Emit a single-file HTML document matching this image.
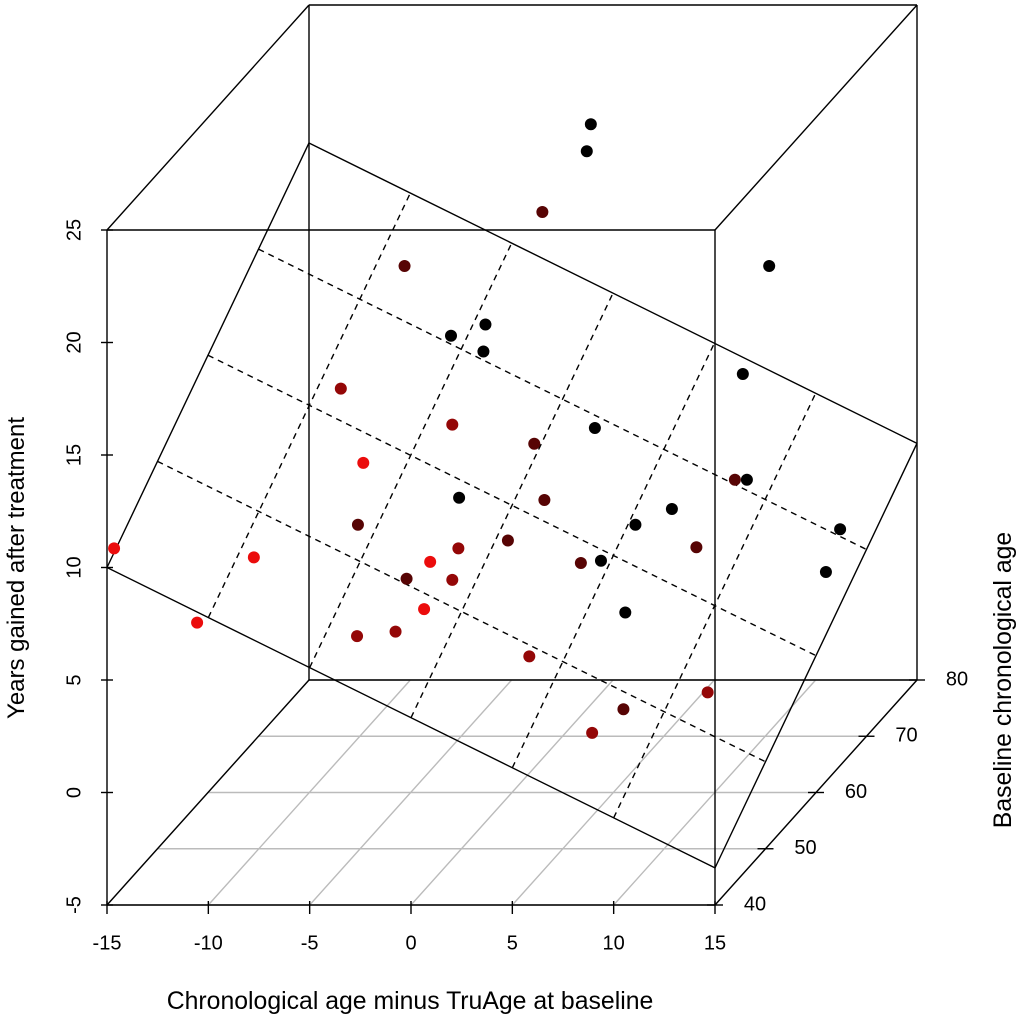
<!DOCTYPE html>
<html><head><meta charset="utf-8"><style>
body{margin:0;background:#fff}
svg{display:block;font-family:"Liberation Sans",sans-serif}
</style></head><body>
<svg id="chart" width="1020" height="1020" viewBox="0 0 1020 1020">
<text x="410" y="1009" font-size="24.8" text-anchor="middle">Chronological age minus TruAge at baseline</text>
<text transform="translate(24,568) rotate(-90)" font-size="24" text-anchor="middle">Years gained after treatment</text>
<text transform="translate(1011,680) rotate(-90)" font-size="24.8" text-anchor="middle">Baseline chronological age</text>
</svg>
<script>
const xVals=[0.9,0.7,1.0,9.7,-5.8,-6.0,-4.3,-4.4,8.4,-7.2,-1.7,0.6,1.1,-3.6,10.5,8.6,-5.6,1.1,4.9,3.1,13.2,-8.1,-0.7,-1.4,8.6,-14.9,-9.0,2.9,1.4,-0.3,-5.7,-1.7,12.5,-11.8,-0.6,2.6,-6.4,-4.5,2.1,10.9,5.0,5.2];
const ageVals=[72,72,62,72,62,72,72,72,72,55,55,62,72,45,62,72,72,62,72,72,72,62,62,55,62,41,45,62,72,45,62,55,72,45,45,72,55,55,55,55,62,55];
const zVals=[21.7,20.5,20.3,15.4,17.9,12.3,12.8,11.6,10.6,14.2,12.6,10.0,8.2,13.4,8.4,5.9,5.1,7.5,4.6,3.9,3.7,6.4,5.7,7.1,5.4,10.6,9.2,4.7,2.3,9.0,4.0,5.7,1.8,6.3,6.9,0.0,3.2,3.4,2.3,0.7,-1.8,-1.1];
const xTicks=[-15,-10,-5,0,5,10,15];
const zTicks=[-5,0,5,10,15,20,25];
const ageTicks=[40,50,60,70,80];
const planeIntercept=10, planeSlopeX=-0.445, planeSlopeAge=0.2217;

const svg=document.getElementById('chart');
const NS='http://www.w3.org/2000/svg';
function X(x){return 107+(x+15)*(608/30);}
function Z(z){return 905-(z+5)*22.5;}
function P(x,a,z){return [X(x)+(a-40)*5.05, Z(z)-(a-40)*5.625];}
function plane(x,a){return planeIntercept+planeSlopeX*(x+15)+planeSlopeAge*(a-40);}
function line(p,q,stroke,dash,name){
  const l=document.createElementNS(NS,'line');
  l.setAttribute('x1',p[0]);l.setAttribute('y1',p[1]);l.setAttribute('x2',q[0]);l.setAttribute('y2',q[1]);
  l.setAttribute('stroke',stroke);l.setAttribute('stroke-width','1.4');
  if(dash)l.setAttribute('stroke-dasharray',dash);
  
  
  svg.appendChild(l);
}
function text(x,y,s,anchor,name,rot){
  const t=document.createElementNS(NS,'text');
  if(rot){t.setAttribute('transform','translate('+x+','+y+') rotate(-90)');t.setAttribute('x',0);t.setAttribute('y',0);}
  else{t.setAttribute('x',x);t.setAttribute('y',y);}
  t.setAttribute('font-size','20');
  t.setAttribute('text-anchor',anchor);t.setAttribute('dominant-baseline','middle');
  t.textContent=s;
  
  
  svg.appendChild(t);
}
const z0=-5;
xTicks.forEach(x=>line(P(x,40,z0),P(x,80,z0),'#bbb',null,'floor-grid-x'));
ageTicks.forEach(a=>line(P(-15,a,z0),P(15,a,z0),'#bbb',null,'floor-grid-age'));
const k='#000';
line(P(-15,40,-5),P(15,40,-5),k,null,'box-edge');
line(P(-15,40,25),P(15,40,25),k,null,'box-edge');
line(P(-15,40,-5),P(-15,40,25),k,null,'box-edge');
line(P(15,40,-5),P(15,40,25),k,null,'box-edge');
line(P(-15,80,25),P(15,80,25),k,null,'box-edge');
line(P(-15,80,-5),P(15,80,-5),k,null,'box-edge');
line(P(-15,80,-5),P(-15,80,25),k,null,'box-edge');
line(P(15,80,-5),P(15,80,25),k,null,'box-edge');
line(P(-15,40,25),P(-15,80,25),k,null,'box-edge');
line(P(15,40,25),P(15,80,25),k,null,'box-edge');
line(P(-15,40,-5),P(-15,80,-5),k,null,'box-edge');
line(P(15,40,-5),P(15,80,-5),k,null,'box-edge');
xTicks.forEach(x=>{const p=P(x,40,-5);line([p[0],p[1]-4],[p[0],p[1]+9],k,null,'x-tick');text(p[0],p[1]+39,String(x),'middle','x-tick-label');});
zTicks.forEach(z=>{const p=P(-15,40,z);line([p[0]-6,p[1]],[p[0]+6,p[1]],k,null,'z-tick');text(p[0]-32,p[1],String(z),'middle','z-tick-label',true);});
ageTicks.forEach(a=>{const p=P(15,a,-5);line([p[0]-8,p[1]],[p[0]+8,p[1]],k,null,'age-tick');text(p[0]+40,p[1],String(a),'middle','age-tick-label');});
const c=[[-15,40],[15,40],[15,80],[-15,80]].map(v=>P(v[0],v[1],plane(v[0],v[1])));
for(let i=0;i<4;i++)line(c[i],c[(i+1)%4],k,null,'plane-edge');
[-10,-5,0,5,10].forEach(x=>line(P(x,40,plane(x,40)),P(x,80,plane(x,80)),k,'6,5','plane-grid-x'));
[50,60,70].forEach(a=>line(P(-15,a,plane(-15,a)),P(15,a,plane(15,a)),k,'6,5','plane-grid-age'));
xVals.forEach((x,i)=>{
  const a=ageVals[i];const p=P(x,a,zVals[i]);
  let r=Math.round(Math.max(0,Math.min(235,235*(72-a)/27)));
  const ci=document.createElementNS(NS,'circle');
  ci.setAttribute('cx',p[0]);ci.setAttribute('cy',p[1]);ci.setAttribute('r','6');
  ci.setAttribute('fill','rgb('+r+','+Math.round(r*0.05)+','+Math.round(r*0.05)+')');
  
  
  svg.appendChild(ci);
});
</script>
</body></html>
